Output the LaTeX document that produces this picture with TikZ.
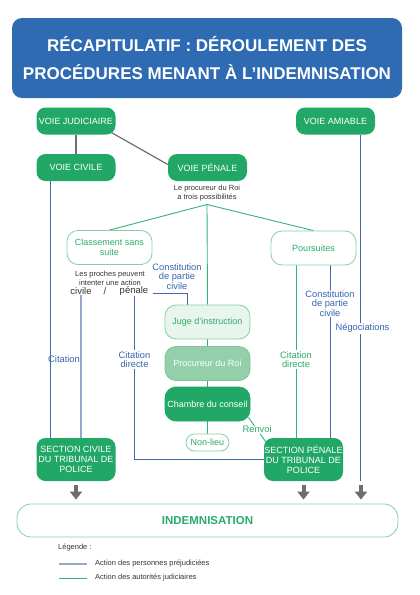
\documentclass[tikz,border=0pt]{standalone}
\usepackage{fontspec}
\setmainfont{Liberation Sans}
\usetikzlibrary{calc,arrows.meta,backgrounds}

\definecolor{tblue}{HTML}{2F6BB3}
\definecolor{gboxc}{HTML}{22A866}
\definecolor{gtext}{HTML}{2AAA6A}
\definecolor{btext}{HTML}{3565AE}
\definecolor{bline}{HTML}{4068AE}
\definecolor{lbline}{HTML}{98A8C8}
\definecolor{gborder}{HTML}{86CFA6}
\definecolor{gline}{HTML}{35B276}
\definecolor{jfill}{HTML}{E8F5EC}
\definecolor{pfill}{HTML}{93D0AA}
\definecolor{garrow}{HTML}{6E6E6E}
\definecolor{dtext}{HTML}{333333}

\tikzset{
  titlebox/.style={fill=tblue, rounded corners=10pt, minimum width=390pt, minimum height=80pt,
    text=white, font=\bfseries\fontsize{17}{28.5}\selectfont, align=center, inner sep=0pt},
  gbox/.style={fill=gboxc, draw=none, rounded corners=9pt, text=white,
    font=\fontsize{9}{10.3}\selectfont, align=center, inner sep=0pt,
    minimum width=79pt, minimum height=27pt},
  obox/.style={fill=white, draw=gborder, line width=0.8pt, rounded corners=11pt, text=gtext,
    font=\fontsize{9}{10.3}\selectfont, align=center, inner sep=0pt,
    minimum width=85pt, minimum height=34pt},
  jbox/.style={obox, fill=jfill},
  pbox/.style={obox, fill=pfill, draw=pfill!92!black, text=white},
  cbox/.style={obox, fill=gboxc, draw=gboxc, text=white},
  nbox/.style={obox, rounded corners=8.5pt, minimum width=43pt, minimum height=17pt},
  ibox/.style={fill=white, draw=gborder, line width=0.8pt, rounded corners=14pt,
    minimum width=381pt, minimum height=33pt, text=gtext,
    font=\bfseries\fontsize{11.5}{13}\selectfont, inner sep=0pt},
  small/.style={text=dtext, font=\fontsize{7.5}{8.7}\selectfont, align=center, inner sep=0pt},
  midtxt/.style={text=dtext, font=\fontsize{9.5}{11}\selectfont, inner sep=0pt},
  blab/.style={text=btext, font=\fontsize{9.3}{9.5}\selectfont, align=center, inner sep=1pt},
  glab/.style={text=gtext, font=\fontsize{9.3}{9.5}\selectfont, align=center, inner sep=1pt},
  legt/.style={text=dtext, font=\fontsize{7.5}{8.5}\selectfont, inner sep=0pt},
  bl/.style={draw=bline, line width=0.9pt},
  lbl/.style={draw=lbline, line width=1.1pt},
  gl/.style={draw=gline, line width=0.9pt},
  gc/.style={draw=garrow, line width=1.2pt},
  garr/.style={draw=garrow, line width=4pt, -{Triangle[width=12pt,length=8pt]}, shorten >=4pt}
}

\begin{document}
\begin{tikzpicture}[x=1pt,y=-1pt]
\useasboundingbox (0,0) rectangle (420,595);

\node[titlebox] (title) at (207,58) {RÉCAPITULATIF : DÉROULEMENT DES\\PROCÉDURES MENANT À L’INDEMNISATION};

\node[gbox] (vj) at (76,121) {VOIE JUDICIAIRE};
\node[gbox] (vc) at (76,167.5) {VOIE CIVILE};
\node[gbox] (vp) at (207.5,167.5) {VOIE PÉNALE};
\node[gbox] (va) at (335.5,121) {VOIE AMIABLE};

\node[small] (proc) at (207,193) {Le procureur du Roi\\a trois possibilités};
\coordinate (br) at (207,204.5);

\node[obox] (cl) at (109.5,247.5) {Classement sans\\suite};
\node[obox] (po) at (313.5,248) {Poursuites};

\node[small] (proches) at (110,278.5) {Les proches peuvent\\intenter une action};
\node[midtxt] (civ) at (81,291) {civile};
\node[midtxt] (sl) at (105,291) {/};
\node[midtxt] (pen) at (134,291) {pénale};
\node[blab] (cpcl) at (177,276.5) {Constitution\\de partie\\civile};

\node[jbox] (ju) at (207.5,322) {Juge d’instruction};
\node[pbox] (pr) at (207.5,363.5) {Procureur du Roi};
\node[cbox] (ch) at (207.5,404) {Chambre du conseil};
\node[nbox] (nl) at (207.5,442.5) {Non-lieu};

\node[gbox, minimum height=43pt] (sc) at (76,459.5) {SECTION CIVILE\\DU TRIBUNAL DE\\POLICE};
\node[gbox, minimum height=43pt] (sp) at (303.5,459.5) {SECTION PÉNALE\\DU TRIBUNAL DE\\POLICE};

\node[ibox] (ind) at (207.5,520.5) {INDEMNISATION};

% labels on lines
\node[blab] (cit) at (64,359.5) {Citation};
\node[blab, fill=white] (citd) at (134.5,359.5) {Citation\\directe};
\node[glab, fill=white] (citdr) at (296,359.5) {Citation\\directe};
\node[blab, fill=white] (cpcr) at (330,303.5) {Constitution\\de partie\\civile};
\node[blab, fill=white] (neg) at (362.5,328.5) {Négociations};
\coordinate (vaend) at (360,481);
\coordinate (a3) at (361,485);

% legend
\node[legt, anchor=west] (leg) at (58,548) {Légende :};
\coordinate (l1a) at (59,564);
\coordinate (l1b) at (87,564);
\node[legt, anchor=west] (l1t) at (95,564) {Action des personnes préjudiciées};
\coordinate (l2a) at (59,578.5);
\coordinate (l2b) at (87,578.5);
\node[legt, anchor=west] (l2t) at (95,578) {Action des autorités judiciaires};

\begin{scope}[on background layer]
  \draw[gc] (vj) -- (vc);
  \draw[gc] ($(vj.south east)+(-4,-2)$) -- ($(vp.west)+(0,-3)$);
  \draw[gl] (br) -- (cl.north);
  \draw[gl] (br) -- (po.north);
  \draw[gl] (br) -- (ju.north);
  \draw[gl] (ju) -- (pr);
  \draw[gl] (pr) -- (ch);
  \draw[gl] (ch) -- (nl);
  \draw[gl] ($(ch.south east)+(-2,-4)$) -- node[glab, fill=white, inner sep=0.5pt] (renvoi) {Renvoi} ($(sp.north west)+(2,4)$);
  \draw[bl] ([xshift=-26pt]vc.south) -- ([xshift=-26pt]sc.north);
  \draw[lbl] (civ.south) -- (civ.south |- sc.north);
  \draw[bl] (pen.south) -- (pen.south |- sp.west) -- (sp.west);
  \draw[bl] ($(pen.east)+(5,2)$) -| ([xshift=-20.5pt]ju.north);
  \draw[gl] ([xshift=-17.5pt]po.south) -- ([xshift=-17.5pt]po.south |- sp.north);
  \draw[bl] ([xshift=16.5pt]po.south) -- ([xshift=16.5pt]po.south |- sp.north);
  \draw[bl] ([xshift=24.5pt]va.south) -- (vaend);
  \draw[lbl] (l1a) -- (l1b);
  \draw[gl] (l2a) -- (l2b);
\end{scope}

\draw[garr] ([yshift=-4pt]sc.south) -- (sc.south |- ind.north);
\draw[garr] ([yshift=-4pt]sp.south) -- (sp.south |- ind.north);
\draw[garr] (a3) -- (a3 |- ind.north);
\end{tikzpicture}
\end{document}
